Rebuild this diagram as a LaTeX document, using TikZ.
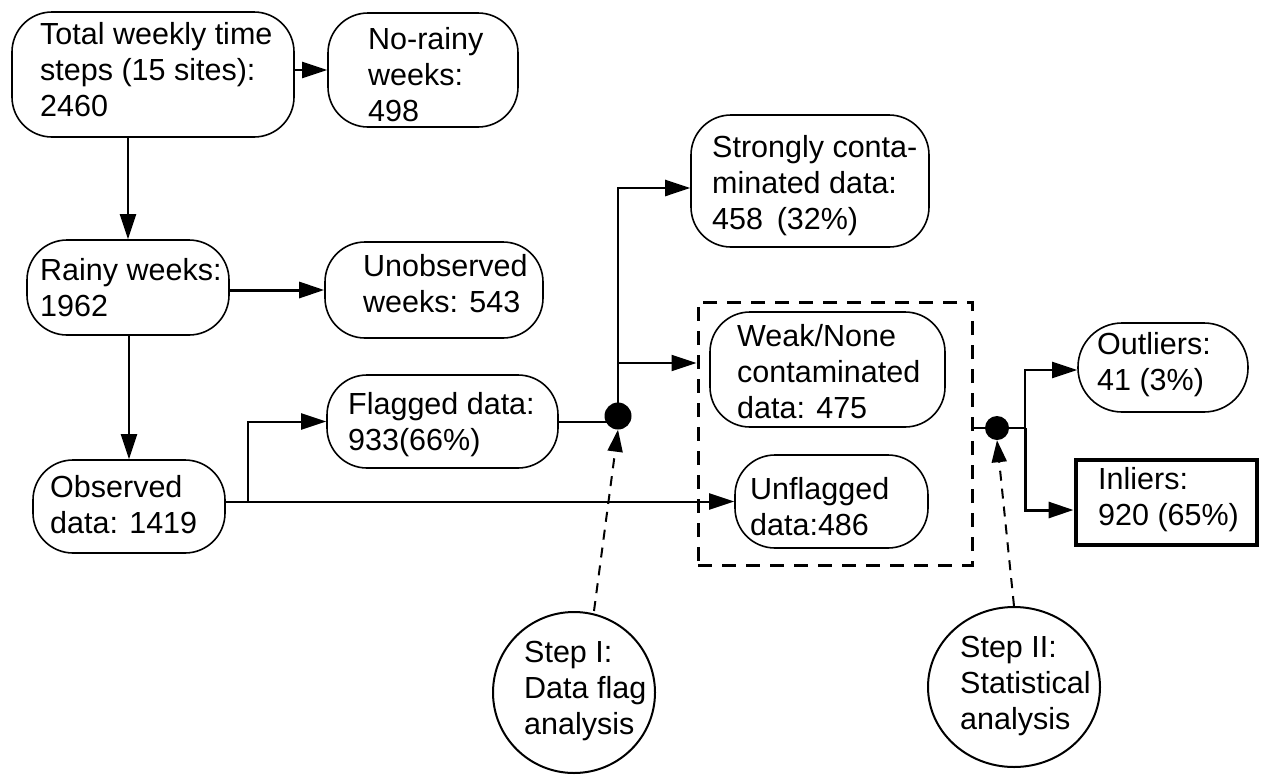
\documentclass[tikz,border=0pt]{standalone}
\usepackage{fontspec}
\setmainfont{Liberation Sans}
\usetikzlibrary{arrows.meta,shapes.geometric}
\begin{document}
\begin{tikzpicture}[x=1pt,y=-1pt,
  box/.style={draw, line width=1.6pt, rounded corners=40pt, inner sep=0pt},
  grpbox/.style={draw, line width=3pt, dash pattern=on 14pt off 10pt, inner sep=0pt},
  txt/.style={align=left, inner sep=0pt, anchor=west, font=\fontsize{30.5}{36}\selectfont},
  dotnode/.style={circle, fill=black, inner sep=0pt},
  stepell/.style={ellipse, draw, line width=2pt, inner sep=0pt},
  conn/.style={line width=2pt},
  arr/.style={conn, -{Triangle[length=25pt,width=16pt]}},
  darr/.style={line width=2pt, dash pattern=on 10pt off 8pt, -{Triangle[length=22pt,width=15pt]}}
]
\useasboundingbox (0,0) rectangle (1261,774);

% boxes
\node[box, minimum width=282pt, minimum height=125pt] (tot) at (153,74.5) {};
\node[txt] (tot-t) at (40,70) {Total weekly time\\steps (15 sites):\\2460};
\node[box, minimum width=190pt, minimum height=114pt] (norain) at (423,70) {};
\node[txt] (norain-t) at (368,75) {No-rainy\\weeks:\\498};
\node[box, minimum width=202pt, minimum height=95pt] (rainy) at (128,287.5) {};
\node[txt] (rainy-t) at (40,288) {Rainy weeks:\\1962};
\node[box, minimum width=218pt, minimum height=96pt] (unobs) at (434,290) {};
\node[txt] (unobs-t) at (363,284) {Unobserved\\weeks: 543};
\node[box, minimum width=231pt, minimum height=93pt] (flag) at (442.5,421.5) {};
\node[txt] (flag-t) at (348,425) {Flagged data:\\933(66\%)};
\node[box, minimum width=192pt, minimum height=93pt] (obs) at (129,506.5) {};
\node[txt] (obs-t) at (50,504.5) {Observed\\data: 1419};
\node[box, minimum width=238pt, minimum height=132pt] (strong) at (810,181) {};
\node[txt] (strong-t) at (712,186) {Strongly conta-\\minated data:\\458\hspace{0.45em}(32\%)};
\node[grpbox, minimum width=274pt, minimum height=263pt] (grp) at (835,433.5) {};
\node[box, minimum width=235pt, minimum height=115pt] (weak) at (827.5,369.5) {};
\node[txt] (weak-t) at (737,372) {Weak/None\\contaminated\\data: 475};
\node[box, minimum width=193pt, minimum height=93pt] (unfl) at (831.5,501.5) {};
\node[txt] (unfl-t) at (750,507) {Unflagged\\data:486};
\node[box, rounded corners=44pt, minimum width=170pt, minimum height=89pt] (outl) at (1163,367.5) {};
\node[txt] (outl-t) at (1097,364.5) {Outliers:\\41 (3\%)};
\node[draw, line width=4pt, minimum width=181pt, minimum height=85pt, inner sep=0pt] (inl) at (1166,502.5) {};
\node[txt] (inl-t) at (1098,500) {Inliers:\\920 (65\%)};

% junction dots
\node[dotnode, minimum size=27pt] (dot1) at (618,416) {};
\node[dotnode, minimum size=24pt] (dot2) at (997,428) {};

% step ellipses
\node[stepell, minimum width=162pt, minimum height=161pt] (step1) at (574,692.5) {};
\node[txt] (step1-t) at (524,691) {Step I:\\Data flag\\analysis};
\node[stepell, minimum width=172pt, minimum height=160pt] (step2) at (1014,687) {};
\node[txt] (step2-t) at (960,686) {Step II:\\Statistical\\analysis};

% helper coordinates
\coordinate (br1) at (248,501.5);
\coordinate (br2) at (1025,428);
\coordinate (ys) at (0,188);
\coordinate (yw) at (0,363);
\coordinate (yo) at (0,370);
\coordinate (yi) at (0,510);

% connectors
\draw[arr] (tot.east |- norain.west) -- (norain.west);
\draw[arr] (tot.south -| rainy.north) -- (rainy.north);
\draw[arr, line width=3pt] (rainy.east |- unobs.west) -- (unobs.west);
\draw[arr] (rainy.south -| obs.north) -- (obs.north);
\draw[arr] (obs.east |- unfl.west) -- (unfl.west);
\draw[arr] (br1) |- (flag.west);
\draw[conn] (flag.east) -- (flag.east -| dot1.center);
\draw[arr, line width=2.5pt] (dot1.center) |- (strong.west |- ys);
\draw[arr] (dot1.center |- yw) -- (grp.west |- yw);
\draw[conn] (grp.east |- dot2) -- (dot2.center) -- (br2);
\draw[arr] (br2) |- (outl.west |- yo);
\draw[arr, line width=3pt] (br2) |- (inl.west |- yi);
\draw[darr] ([xshift=20pt]step1.north) -- (dot1.south);
\draw[darr] (step2.north) -- (dot2.south);
\end{tikzpicture}
\end{document}
